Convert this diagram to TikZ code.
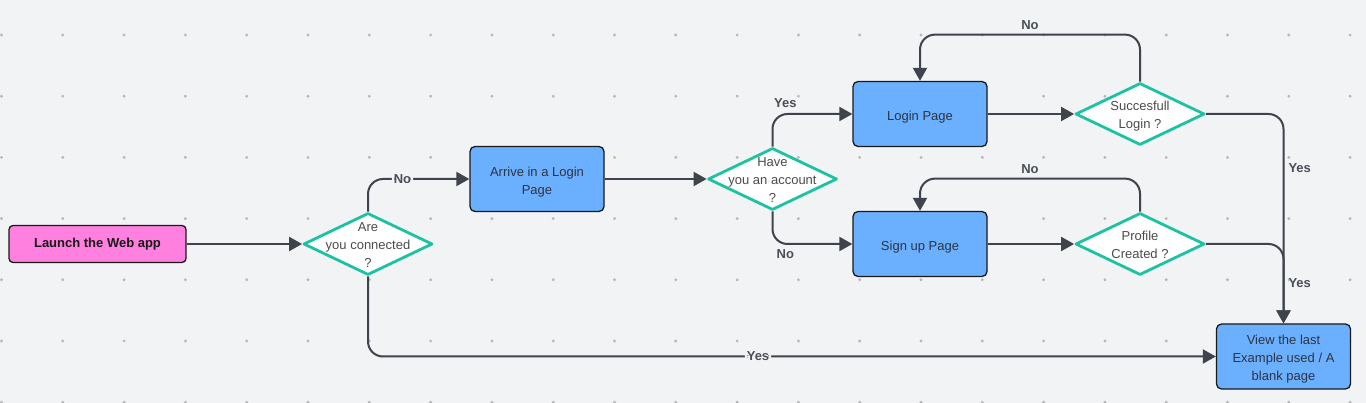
\documentclass[tikz,border=0pt]{standalone}
\usepackage{fontspec}
\setmainfont{Liberation Sans}
\usetikzlibrary{arrows.meta, shapes.geometric}

\definecolor{bgcol}{HTML}{F2F3F5}
\definecolor{dotcol}{HTML}{B5B7BB}
\definecolor{linecol}{HTML}{3E434C}
\definecolor{startfill}{HTML}{FF80DF}
\definecolor{pagefill}{HTML}{6BAFFF}
\definecolor{askcol}{HTML}{1DC2A2}
\definecolor{boxtext}{HTML}{2E3440}
\definecolor{asktext}{HTML}{4B4B4B}
\definecolor{answertext}{HTML}{4A4F57}

% text that does not change the size of its node
\newcommand{\asktxt}[1]{\makebox[0pt]{\raisebox{-4.5pt}[0pt][0pt]{\begin{tabular}{@{}c@{}}#1\end{tabular}}}}
\newcommand{\pagetxt}[1]{\makebox[0pt]{\raisebox{-5.5pt}[0pt][0pt]{\begin{tabular}{@{}c@{}}#1\end{tabular}}}}

\tikzset{
  startbox/.style={
    draw=black!90,
    line width=1.3pt,
    rounded corners=4pt,
    fill=startfill,
    text=black!90,
    font=\fontsize{13}{18}\selectfont\bfseries,
    minimum width=177pt,
    minimum height=37pt
  },
%
  pagebox/.style={
    draw=black!90,
    line width=1.3pt,
    rounded corners=5pt,
    fill=pagefill,
    text=boxtext,
    inner sep=0pt,
    font=\fontsize{13}{18}\selectfont,
    minimum width=134pt,
    minimum height=65pt
  },
%
  decision/.style={
    diamond,
    draw=askcol,
    line width=2.8pt,
    line join=round,
    fill=white,
    text=asktext,
    inner sep=0pt,
    font=\fontsize{13}{18}\selectfont,
    minimum width=129pt,
    minimum height=62pt
  },
%
  edge/.style={
    draw=linecol,
    line width=2pt,
    rounded corners=15pt,
    -{Triangle[length=13pt,width=14pt]}
  },
%
  answer/.style={
    fill=bgcol,
    text=answertext,
    inner sep=2pt,
    font=\fontsize{13}{15}\selectfont\bfseries
  },
}

\begin{document}
\begin{tikzpicture}[x=1pt, y=-1pt]
\useasboundingbox[fill=bgcol] (0,0) rectangle (1366,403);
\foreach \i in {0,...,22}
  \foreach \j in {0,...,6}
    \fill[dotcol] (1.5+61.3*\i, 35+61.2*\j) circle (1.6pt);

\node[startbox] at (97.5,244) (launch) {Launch the Web app};
\node[decision] at (368,244) (conn) {\asktxt{Are\\you connected\\?}};
\node[pagebox] at (537,179) (arrive) {\pagetxt{Arrive in a Login\\Page}};
\node[decision] at (772.5,179) (have) {\asktxt{Have\\you an account\\?}};
\node[pagebox] at (920,114) (login) {\pagetxt{Login Page}};
\node[decision] at (1140,114) (succ) {\asktxt{Succesfull\\Login ?}};
\node[pagebox] at (920,244) (signup) {\pagetxt{Sign up Page}};
\node[decision] at (1140,244) (prof) {\asktxt{Profile\\Created ?}};
\node[pagebox] at (1283.5,356.5) (view) {\pagetxt{View the last\\Example used / A\\blank page}};

\draw[edge] (launch) -- (conn);
\draw[edge] (conn.north) |- node[answer, pos=0.67] {No} (arrive.west);
\draw[edge] (arrive) -- (have);
\draw[edge] (have.north) |- node[answer, pos=0.58, above=3pt] {Yes} (login.west);
\draw[edge] (have.south) |- node[answer, pos=0.58, below=3pt] {No} (signup.west);
\draw[edge] (login) -- (succ);
\draw[edge] (signup) -- (prof);
\draw[edge] (succ.north) -- ++(0,-47) -| node[answer, pos=0.25, above=2pt] {No} (login.north);
\draw[edge] (prof.north) -- ++(0,-33) -| node[answer, pos=0.25, above=2pt] {No} (signup.north);
\draw[edge] (succ.east) -| node[answer, pos=0.63, right=2pt] {Yes} (view.north);
\draw[edge] (prof.east) -| node[answer, pos=0.745, right=2pt] {Yes} (view.north);
\draw[edge] (conn.south) |- node[answer, pos=0.73] {Yes} (view.west);

\end{tikzpicture}
\end{document}
